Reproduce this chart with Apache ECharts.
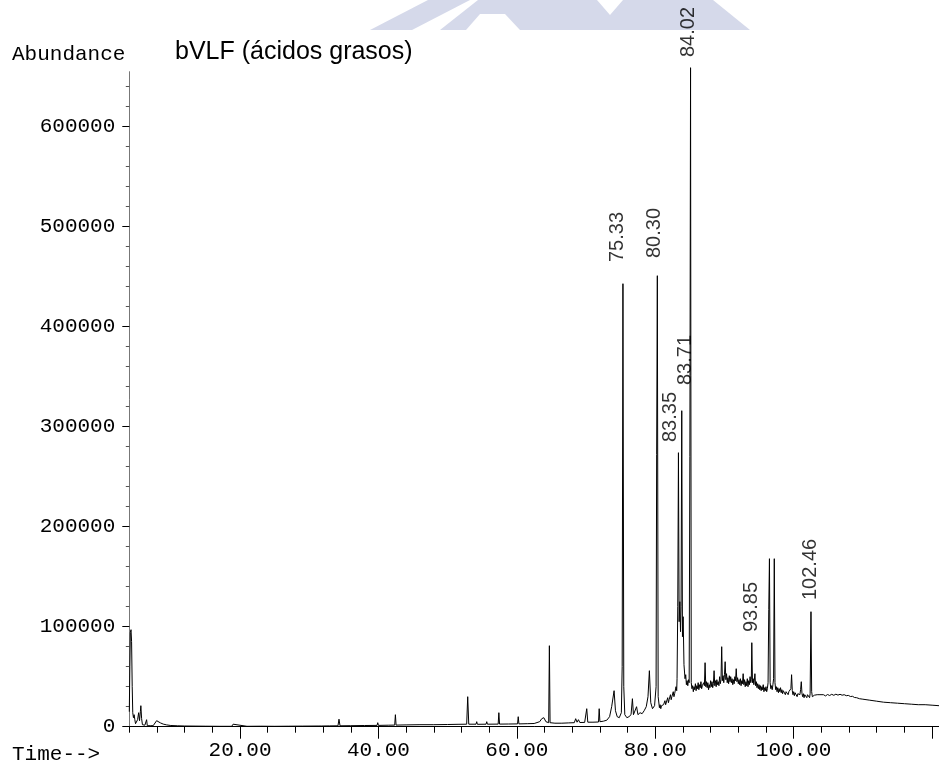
<!DOCTYPE html>
<html>
<head>
<meta charset="utf-8">
<script src="https://cdn.jsdelivr.net/npm/echarts@6/dist/echarts.min.js"></script>
<style>
html,body{margin:0;padding:0;background:#fff;}
#c{width:939px;height:767px;}
</style>
</head>
<body>
<div id="c"></div>
<script>
// ---- data ----
const chartTitle = 'bVLF (ácidos grasos)';
const yAxisName = 'Abundance';
const xAxisName = 'Time-->';

const xLabelValues = [20, 40, 60, 80, 100];
const xMajorTicks = [20, 40, 60, 80, 100, 120];
const xMinorTicks = [4, 8, 12, 16, 20, 24, 28, 32, 36, 40, 44, 48, 52, 56, 60, 64, 68, 72, 76, 80, 84, 88, 92, 96, 100, 104, 108, 112, 116, 120];
const yLabelValues = [0, 100000, 200000, 300000, 400000, 500000, 600000];
const yMinorTicks = [0, 20000, 40000, 60000, 80000, 100000, 120000, 140000, 160000, 180000, 200000, 220000, 240000, 260000, 280000, 300000, 320000, 340000, 360000, 380000, 400000, 420000, 440000, 460000, 480000, 500000, 520000, 540000, 560000, 580000, 600000, 620000, 640000];

// peak annotations: retention-time text, and where the text starts
const peakLabels = ['75.33', '80.30', '83.35', '83.71', '84.02', '93.85', '102.46'];
const peakLabelTime = [74.48, 79.82, 82.14, 84.31, 84.74, 93.94, 102.5];
const peakLabelAbund = [464700, 468700, 284700, 341700, 669700, 94700, 126700];

// chromatogram trace [time, abundance]
const chromatogram = [
[4.0,15000],[4.08,60000],[4.15,94000],[4.25,97000],[4.33,85000],[4.42,40000],[4.5,14000],[4.6,9000],[4.7,12000],[4.8,7000],[4.9,3000],[5.05,1000],[5.2,7000],[5.35,14000],[5.48,6000],[5.6,15000],[5.67,21000],[5.78,8000],[5.9,2000],[6.05,500],[6.25,1500],[6.4,2000],[6.5,7000],[6.6,1000],[6.85,500],[7.1,1000],[7.3,2500],[7.45,1000],[7.7,3000],[7.95,6000],[8.2,5000],[8.5,3800],[8.9,2600],[9.4,1800],[10.0,1200],[11.0,900],[12.0,700],[13.5,600],[15.0,500],[17.0,400],[18.8,400],[19.0,2500],[19.2,500],[21.0,400],[23.0,500],[25.0,400],[27.0,500],[29.0,600],[31.4,700],[31.6,1800],[31.8,700],[32.9,800],[33.0,2200],[33.1,800],[34.15,900],[34.3,7500],[34.45,900],[36.0,1000],[38.0,1200],[39.8,1300],[39.9,4000],[40.0,1300],[41.5,1500],[42.35,1600],[42.45,12000],[42.55,1600],[44.0,1800],[46.0,2000],[48.0,2000],[50.0,2200],[51.5,2400],[52.75,2500],[52.9,30000],[53.05,2500],[54.1,2500],[54.2,5000],[54.3,2400],[55.55,2500],[55.65,5000],[55.75,2500],[57.3,2600],[57.4,14000],[57.5,2600],[58.8,2700],[58.9,3500],[59.0,2700],[60.1,2800],[60.2,10000],[60.3,2800],[61.5,3000],[61.6,4000],[61.7,3000],[62.5,3200],[62.6,4500],[62.7,3200],[63.3,5000],[63.6,8000],[63.9,9000],[64.2,5000],[64.6,4000],[64.7,81000],[64.8,4000],[65.5,3500],[66.5,3500],[67.5,3800],[68.3,4000],[68.5,8000],[68.7,4500],[68.9,7000],[69.1,4200],[69.8,4300],[70.1,18000],[70.25,4500],[71.0,4500],[71.8,4700],[71.9,18000],[72.0,5000],[72.5,5500],[73.0,6500],[73.4,10000],[73.7,20000],[74.05,36000],[74.25,16000],[74.5,10000],[74.8,9000],[75.1,14000],[75.22,60000],[75.33,443000],[75.45,40000],[75.6,12000],[75.9,9000],[76.2,10000],[76.5,12000],[76.7,28000],[76.85,12000],[77.1,13000],[77.3,20000],[77.5,12000],[77.8,14000],[78.1,13000],[78.4,16000],[78.7,20000],[78.95,30000],[79.15,56000],[79.35,24000],[79.6,18000],[79.9,21000],[80.12,40000],[80.2,272000],[80.3,451000],[80.42,30000],[80.6,19000],[80.7,22000],[80.8,18000],[80.9,21000],[81.0,23000],[81.1,19000],[81.2,22000],[81.3,20000],[81.4,26000],[81.5,22000],[81.6,24000],[81.7,22000],[81.8,29000],[81.9,24000],[82.0,27000],[82.1,25000],[82.2,32000],[82.3,27000],[82.4,30000],[82.5,28000],[82.6,35000],[82.7,30000],[82.8,33000],[82.9,31000],[83.0,40000],[83.1,36000],[83.15,48000],[83.25,120000],[83.35,274000],[83.45,105000],[83.55,125000],[83.65,95000],[83.73,120000],[83.83,316000],[83.93,90000],[84.03,110000],[84.15,62000],[84.3,48000],[84.4,52000],[84.5,42000],[84.6,46000],[84.7,41000],[84.8,47000],[84.9,44000],[85.0,270000],[85.1,659000],[85.2,44000],
[85.3,38000],[85.4,41000],[85.5,35000],[85.6,40000],[85.7,37000],[85.8,43000],[85.9,36000],[86.0,41000],[86.1,38000],[86.2,44000],[86.3,37000],[86.4,42000],[86.5,39000],[86.6,45000],[86.7,38000],[86.8,41000],[86.9,39000],[87.0,44000],[87.1,41000],[87.2,64000],[87.3,40000],[87.4,45000],[87.5,39000],[87.6,44000],[87.7,37000],[87.8,42000],[87.9,39000],[88.0,46000],[88.1,40000],[88.2,45000],[88.3,39000],[88.4,43000],[88.5,56000],[88.6,41000],[88.7,46000],[88.8,40000],[88.9,47000],[89.0,42000],[89.1,45000],[89.2,41000],[89.3,50000],[89.4,43000],[89.5,47000],[89.6,80000],[89.7,46000],[89.8,51000],[89.9,44000],[90.0,52000],[90.1,65000],[90.2,47000],[90.3,53000],[90.4,44000],[90.5,49000],[90.6,43000],[90.7,51000],[90.8,45000],[90.9,50000],[91.0,44000],[91.1,48000],[91.2,42000],[91.3,47000],[91.4,43000],[91.5,50000],[91.6,46000],[91.7,58000],[91.8,45000],[91.9,49000],[92.0,43000],[92.1,47000],[92.2,42000],[92.3,48000],[92.4,41000],[92.5,46000],[92.6,43000],[92.7,53000],[92.8,42000],[92.9,47000],[93.0,40000],[93.1,45000],[93.2,41000],[93.3,48000],[93.4,40000],[93.5,46000],[93.6,42000],[93.7,50000],[93.8,44000],[93.88,47000],[93.95,84000],[94.05,44000],[94.15,48000],[94.25,42000],[94.4,53000],[94.5,41000],[94.6,45000],[94.7,39000],[94.8,43000],[94.9,38000],[95.0,42000],[95.1,37000],[95.2,41000],[95.3,36000],[95.4,40000],[95.5,37000],[95.6,42000],[95.7,35000],[95.8,39000],[95.9,36000],[96.0,40000],[96.1,35000],[96.2,38000],[96.3,44000],[96.4,117000],[96.5,168000],[96.6,44000],[96.7,38000],[96.8,41000],[96.9,37000],[97.0,42000],[97.1,48000],[97.2,168000],[97.3,44000],[97.4,37000],[97.5,40000],[97.6,35000],[97.7,39000],[97.8,34000],[97.9,38000],[98.0,35000],[98.1,39000],[98.2,34000],[98.3,37000],[98.4,33000],[98.5,36000],[98.6,34000],[98.7,37000],[98.8,32000],[98.9,35000],[99.0,33000],[99.1,36000],[99.2,32000],[99.3,35000],[99.4,33000],[99.5,36000],[99.6,38000],[99.7,52000],[99.8,36000],[99.9,32000],[100.0,35000],[100.1,31000],[100.2,34000],[100.3,32000],[100.4,35000],[100.5,30000],[100.6,33000],[100.7,31000],[100.8,35000],[100.9,32000],[101.0,37000],[101.1,45000],[101.2,33000],[101.3,30000],[101.4,33000],[101.5,29000],[101.6,32000],[101.7,30000],[101.8,33000],[101.9,29000],[102.0,32000],[102.1,30000],[102.2,31000],[102.3,29000],[102.38,33000],[102.5,115000],[102.6,35000],[102.7,30000],[102.8,32000],[102.9,30000],[103.0,31500],[103.2,30000],[103.4,32000],[103.6,30500],[103.8,32000],[104.0,31000],[104.3,32000],[104.6,30800],[104.9,32200],[105.2,31200],[105.5,32400],[105.8,31400],[106.1,32500],[106.4,31600],[106.7,32400],[107.0,31500],[107.3,32000],[107.6,31000],[107.9,31300],[108.2,30200],[108.5,30400],[108.8,29200],[109.1,29000],[109.5,28000],[110.0,27500],[111.0,26500],[112.0,25500],[113.0,24500],[114.0,24000],[115.0,23500],[116.0,23000],[117.0,22500],[118.0,22000],[119.0,22000],[120.0,21500],[121.0,21000]
];

// ---- chart ----
const mono = 'Liberation Mono';
const sans = 'Liberation Sans';
const chart = echarts.init(document.getElementById('c'), null, {renderer: 'canvas'});

const peakData = peakLabels.map((t, i) => ({name: t, value: [peakLabelTime[i], peakLabelAbund[i]]}));

chart.setOption({
  backgroundColor: '#ffffff',
  animation: false,
  title: [
    {text: chartTitle, left: 175, top: 40, padding: 0,
     textStyle: {fontFamily: sans, fontSize: 25, fontWeight: 'normal', color: '#000'}},
    {text: yAxisName, left: 12, top: 44, padding: 0,
     textStyle: {fontFamily: mono, fontSize: 21, fontWeight: 'normal', color: '#000'}},
    {text: xAxisName, left: 12, top: 744, padding: 0,
     textStyle: {fontFamily: mono, fontSize: 21, fontWeight: 'normal', color: '#000'}}
  ],
  graphic: [
    {type: 'polygon', silent: true, z: -10,
     shape: {points: [[370, 30], [428, 0], [470, 0], [412, 30]]},
     style: {fill: '#d5d9ea'}},
    {type: 'polygon', silent: true, z: -10,
     shape: {points: [[440, 30], [478, 0], [597, 0], [610, 15], [623, 0], [713, 0], [750, 30], [520, 30], [505, 14], [480, 14], [466, 30]]},
     style: {fill: '#d5d9ea'}}
  ],
  grid: {left: 129.3, right: 0, top: 71.7, bottom: 40.3, containLabel: false, outerBoundsMode: 'none'},
  xAxis: [
    {type: 'value', min: 4, max: 121, position: 'bottom',
     axisLine: {show: true, onZero: false, lineStyle: {color: '#000', width: 1}},
     axisTick: {show: true, customValues: xMinorTicks, length: 6, lineStyle: {color: '#000', width: 1}},
     axisLabel: {show: true, customValues: xLabelValues, margin: 13,
       formatter: v => Number(v).toFixed(2),
       fontFamily: mono, fontSize: 21, color: '#000'},
     splitLine: {show: false}},
    {type: 'value', min: 4, max: 121, position: 'bottom',
     axisLine: {show: false, onZero: false},
     axisTick: {show: true, customValues: xMajorTicks, length: 12, lineStyle: {color: '#000', width: 1}},
     axisLabel: {show: false},
     splitLine: {show: false}}
  ],
  yAxis: [
    {type: 'value', min: 0, max: 655000, position: 'left',
     axisLine: {show: true, onZero: false, lineStyle: {color: '#777', width: 1}},
     axisTick: {show: true, customValues: yMinorTicks, length: 3.5, lineStyle: {color: '#555', width: 1}},
     axisLabel: {show: true, customValues: yLabelValues, margin: 14,
       formatter: v => String(v),
       fontFamily: mono, fontSize: 21, color: '#000'},
     splitLine: {show: false}},
    {type: 'value', min: 0, max: 655000, position: 'left',
     axisLine: {show: false, onZero: false},
     axisTick: {show: true, customValues: yLabelValues, length: 7, lineStyle: {color: '#000', width: 1}},
     axisLabel: {show: false},
     splitLine: {show: false}}
  ],
  series: [
    {type: 'line', xAxisIndex: 0, yAxisIndex: 0, data: chromatogram,
     showSymbol: false, symbol: 'none', sampling: null, clip: false, smooth: false,
     lineStyle: {color: '#000', width: 1}},
    {type: 'scatter', xAxisIndex: 0, yAxisIndex: 0, data: peakData,
     symbolSize: 0, clip: false, silent: true,
     label: {show: true, position: 'inside', rotate: 90, align: 'left', verticalAlign: 'middle',
       formatter: p => p.name, fontFamily: sans, fontSize: 20, color: '#000'}}
  ]
});
</script>
</body>
</html>
